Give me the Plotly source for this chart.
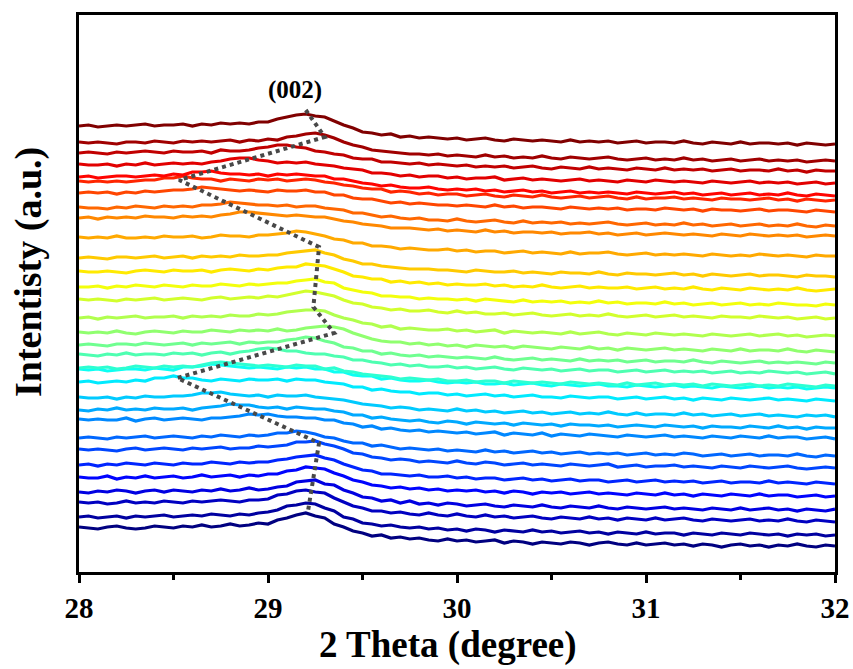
import numpy as np
import plotly.graph_objects as go

# 2-theta sampling grid (degrees)
TWO_THETA = np.round(np.linspace(28.0, 32.0, 81), 2)

# vertical offset of each pattern at 2θ = 28° (bottom → top), a.u.
OFFSETS = [44, 55, 69, 80, 94, 107, 122, 134, 152, 162, 174, 190, 202, 204, 217, 227,
           239, 254, 272, 285, 300, 314, 334, 354, 364, 379, 390, 395, 407, 419, 429, 446]

# intensity of each pattern relative to its offset (bottom → top), a.u.
P00 = [1,0,-1,1,2,0,-1,0,2,1, 0,2,1,3,1,2,4,2,3,5, 4,8,10,13,15,12,10,4,1,-3, -5,-8,-7,-10,-9,-11,-10,-12,-13,-11, -13,-12,-14,-13,-12,-15,-13,-14,-16,-14, -15,-16,-14,-15,-17,-15,-14,-16,-17,-15, -17,-16,-15,-17,-16,-18,-16,-17,-19,-17, -16,-18,-17,-19,-17,-18,-16,-18,-19,-17, -18]
P01 = [0,1,-1,0,1,-1,1,0,1,2, 0,1,2,1,3,2,1,3,2,4, 5,7,11,12,14,13,9,6,0,-2, -6,-7,-9,-8,-10,-11,-10,-12,-11,-13, -12,-14,-12,-13,-15,-13,-14,-15,-13,-15, -14,-16,-15,-14,-16,-15,-17,-15,-16,-17, -15,-17,-16,-16,-18,-16,-17,-18,-16,-17, -18,-16,-17,-18,-17,-19,-17,-18,-17,-19, -18]
P02 = [1,0,1,-1,0,2,0,1,0,2, 1,0,2,1,2,3,2,1,3,3, 4,8,9,12,13,11,10,5,1,-3, -5,-8,-8,-10,-9,-11,-12,-10,-12,-13, -11,-13,-14,-12,-14,-13,-15,-14,-13,-15, -16,-14,-15,-16,-14,-16,-15,-17,-15,-16, -17,-15,-17,-16,-15,-17,-18,-16,-17,-18, -17,-16,-18,-17,-18,-16,-18,-19,-17,-18, -19]
P03 = [0,-1,1,0,2,1,-1,1,2,0, 2,1,0,2,1,3,1,2,4,2, 3,5,6,10,11,12,8,7,2,-1, -5,-6,-9,-8,-11,-9,-12,-11,-13,-11, -12,-14,-13,-12,-14,-15,-13,-14,-15,-13, -15,-16,-14,-15,-16,-14,-16,-17,-15,-16, -17,-16,-15,-17,-16,-17,-18,-16,-17,-18, -16,-18,-17,-16,-18,-17,-19,-17,-18,-19, -17]
P04 = [1,0,0,2,-1,1,0,2,0,1, 2,0,1,3,1,2,3,1,3,2, 4,4,7,8,11,10,9,5,2,-2, -4,-7,-8,-10,-9,-11,-10,-12,-11,-13, -12,-13,-12,-14,-13,-15,-13,-14,-16,-14, -15,-14,-16,-15,-14,-16,-15,-16,-17,-15, -16,-17,-15,-17,-16,-18,-16,-17,-18,-16, -17,-18,-16,-18,-17,-17,-19,-18,-17,-19, -18]
P05 = [0,1,-1,1,0,2,1,0,2,1, 0,2,1,1,3,2,1,3,2,3, 3,5,6,8,9,10,7,5,1,-2, -5,-6,-9,-9,-10,-11,-10,-12,-12,-11, -13,-12,-14,-13,-13,-15,-14,-13,-15,-14, -16,-15,-14,-16,-15,-15,-17,-16,-15,-17, -16,-15,-17,-16,-17,-16,-18,-17,-16,-18, -17,-17,-18,-16,-18,-17,-18,-19,-17,-18, -19]
P06 = [1,0,1,0,-1,1,2,0,1,2, 1,0,2,1,2,3,1,2,2,4, 3,4,5,8,8,9,6,4,1,-3, -4,-7,-8,-10,-9,-10,-12,-11,-12,-13, -11,-13,-14,-12,-13,-15,-14,-13,-15,-14, -15,-16,-14,-15,-16,-15,-14,-17,-16,-15, -17,-16,-16,-15,-17,-16,-17,-18,-16,-17, -18,-16,-17,-18,-17,-16,-18,-19,-18,-17, -18]
P07 = [0,1,0,-1,1,0,1,2,0,1, 2,1,0,2,1,3,2,1,3,2, 3,5,5,7,6,4,1,0,-3,-5, -5,-8,-7,-9,-11,-10,-11,-12,-11,-13, -12,-13,-14,-12,-14,-13,-15,-14,-13,-15, -14,-16,-15,-14,-16,-15,-16,-15,-17,-16, -15,-17,-16,-17,-15,-16,-18,-17,-16,-18, -17,-16,-18,-17,-17,-18,-16,-18,-19,-17, -18]
P08 = [1,0,1,0,0,2,-1,1,2,0, 1,2,1,0,2,2,3,4,6,5, 6,4,3,3,2,2,0,0,-3,-4, -7,-6,-9,-8,-10,-11,-10,-12,-11,-12, -13,-12,-14,-13,-12,-15,-13,-14,-15,-13, -16,-14,-15,-16,-14,-15,-16,-17,-15,-16, -17,-16,-15,-17,-16,-17,-18,-16,-17,-18, -16,-17,-18,-16,-18,-17,-17,-19,-18,-17, -19]
P09 = [0,-1,1,0,2,0,1,0,2,1, 1,2,0,2,3,4,6,5,5,3, 2,3,1,3,2,1,1,-1,-2,-5, -5,-8,-7,-9,-10,-11,-10,-12,-13,-11, -12,-14,-12,-13,-14,-13,-15,-13,-14,-15, -14,-16,-14,-15,-15,-16,-15,-17,-16,-15, -16,-17,-15,-16,-17,-16,-18,-16,-17,-17, -18,-16,-17,-18,-16,-18,-17,-19,-17,-18, -18]
P10 = [1,0,0,1,-1,1,0,2,1,1, 2,2,3,5,5,6,4,3,2,3, 1,3,2,2,3,1,0,-1,-2,-4, -6,-7,-8,-10,-9,-10,-12,-11,-12,-13, -11,-13,-12,-14,-13,-15,-14,-13,-15,-14, -16,-15,-14,-16,-15,-16,-14,-16,-17,-15, -17,-16,-16,-17,-15,-17,-16,-18,-17,-16, -18,-17,-16,-18,-17,-18,-19,-17,-18,-17, -19]
P11 = [0,1,-1,0,1,0,2,1,4,4, 6,4,4,2,1,3,2,1,3,2, 2,3,1,3,2,2,0,-1,-2,-5, -5,-8,-7,-9,-10,-10,-12,-11,-11,-13, -12,-14,-13,-12,-14,-13,-15,-14,-13,-15, -15,-16,-14,-15,-16,-15,-15,-17,-16,-15, -17,-16,-15,-17,-16,-18,-16,-17,-18,-16, -17,-18,-17,-16,-18,-17,-18,-19,-17,-18, -19]
P12 = [1,0,1,-1,0,1,1,0,2,1, 0,3,3,4,6,5,4,3,2,3, 2,1,3,2,3,1,1,-2,-2,-5, -6,-6,-9,-8,-10,-11,-11,-10,-12,-13, -12,-13,-12,-14,-14,-13,-15,-14,-13,-15, -16,-14,-15,-16,-15,-14,-16,-16,-17,-15, -16,-17,-16,-15,-17,-16,-17,-18,-16,-17, -18,-17,-16,-18,-17,-18,-17,-19,-18,-17, -18]
P13 = [0,1,0,1,-1,0,2,1,0,2, 1,2,1,3,5,6,5,4,3,2, 3,2,1,3,2,2,-1,0,-3,-4, -6,-7,-8,-9,-11,-10,-11,-12,-11,-13, -13,-12,-14,-13,-13,-15,-13,-14,-15,-14, -15,-16,-14,-15,-16,-15,-16,-17,-15,-17, -16,-15,-17,-16,-17,-16,-18,-16,-17,-18, -17,-16,-18,-17,-18,-16,-17,-18,-19,-17, -18]
P14 = [1,0,-1,1,0,2,0,1,1,0, 2,1,2,0,2,3,1,3,4,6, 7,6,4,4,2,1,1,-1,-2,-5, -5,-7,-8,-10,-9,-11,-10,-12,-12,-11, -13,-12,-14,-13,-12,-14,-15,-13,-14,-15, -14,-16,-15,-14,-16,-15,-15,-17,-16,-15, -17,-16,-15,-17,-16,-17,-16,-18,-17,-16, -18,-17,-18,-16,-17,-18,-17,-19,-18,-17, -19]
P15 = [0,1,0,-1,1,1,0,2,1,0, 1,2,0,2,1,2,3,1,3,2, 3,3,5,6,8,7,4,2,-2,-3, -6,-6,-9,-8,-10,-11,-10,-12,-11,-12, -13,-12,-13,-14,-12,-14,-15,-14,-13,-15, -14,-15,-16,-14,-16,-15,-16,-15,-17,-16, -15,-17,-16,-16,-17,-15,-17,-18,-16,-17, -18,-17,-16,-18,-17,-18,-17,-18,-19,-17, -18]
P16 = [1,0,1,0,2,0,-1,1,2,1, 0,2,1,1,3,2,1,3,2,3, 2,4,2,3,5,6,7,6,4,0, -3,-6,-8,-9,-9,-11,-10,-12,-11,-13, -12,-14,-12,-13,-14,-13,-15,-13,-14,-15, -16,-14,-15,-16,-14,-16,-15,-17,-15,-16, -17,-16,-15,-17,-16,-17,-18,-16,-17,-18, -16,-18,-17,-17,-18,-16,-18,-19,-17,-18, -19]
P17 = [0,1,-1,1,0,1,2,0,1,1, 2,0,2,1,2,1,3,2,2,4, 3,4,6,7,8,8,7,3,0,-2, -5,-6,-9,-8,-11,-10,-11,-12,-12,-11, -13,-12,-14,-13,-12,-15,-13,-14,-15,-14, -15,-16,-14,-16,-15,-14,-16,-17,-15,-16, -17,-15,-16,-17,-16,-17,-18,-16,-17,-18, -17,-16,-18,-17,-16,-18,-17,-19,-18,-17, -18]
P18 = [1,0,1,0,-1,1,0,1,2,0, 1,2,1,0,2,3,1,2,3,2, 4,3,5,7,9,8,6,4,0,-3, -4,-7,-8,-10,-9,-11,-11,-10,-12,-13, -11,-13,-12,-14,-14,-13,-15,-14,-13,-15, -16,-15,-14,-16,-15,-16,-14,-16,-17,-16, -15,-17,-16,-15,-17,-16,-17,-18,-16,-17, -17,-18,-16,-17,-18,-17,-19,-18,-17,-19, -18]
P19 = [0,0,1,-1,1,0,2,1,0,2, 1,0,2,1,1,3,2,1,3,2, 3,4,4,6,7,8,5,4,-1,-3, -5,-6,-9,-9,-10,-10,-12,-11,-12,-12, -13,-12,-14,-12,-13,-14,-15,-13,-15,-14, -15,-14,-16,-15,-16,-14,-16,-15,-17,-16, -16,-17,-15,-17,-16,-18,-17,-16,-18,-17, -16,-18,-17,-18,-16,-17,-18,-18,-19,-17, -18]
P20 = [1,0,0,1,0,-1,1,2,1,0, 2,1,1,2,0,2,3,2,1,3, 2,4,5,5,8,7,6,3,0,-4, -5,-7,-7,-10,-9,-11,-10,-12,-11,-13, -12,-13,-13,-12,-14,-13,-15,-14,-15,-13, -15,-16,-15,-14,-16,-15,-16,-16,-15,-17, -16,-15,-17,-16,-17,-15,-17,-18,-16,-17, -18,-16,-17,-18,-17,-18,-16,-18,-19,-18, -17]
P21 = [0,1,0,-1,1,1,0,1,2,0, 1,2,0,2,1,2,1,3,2,2, 3,3,5,6,7,8,5,3,-1,-3, -6,-6,-8,-9,-10,-11,-11,-11,-12,-12, -13,-14,-12,-13,-14,-14,-13,-15,-14,-15, -16,-14,-15,-15,-16,-14,-16,-17,-15,-16, -16,-17,-16,-15,-17,-16,-18,-16,-17,-18, -17,-16,-18,-17,-17,-18,-19,-17,-18,-18, -19]
P22 = [1,0,1,0,2,0,0,1,0,2, 1,1,2,0,1,3,2,2,1,3, 3,4,5,7,6,4,2,-1,-2,-5, -5,-8,-8,-9,-11,-10,-11,-12,-12,-11, -13,-12,-14,-13,-13,-15,-14,-13,-15,-14, -15,-16,-14,-16,-15,-15,-14,-16,-17,-16, -15,-17,-16,-17,-16,-17,-18,-16,-17,-18, -17,-18,-16,-17,-18,-17,-18,-19,-17,-18, -18]
P23 = [0,1,-1,1,0,1,0,2,1,1, 0,2,1,2,1,3,4,6,6,5, 4,3,2,3,2,1,1,-1,-3,-4, -6,-7,-8,-10,-10,-10,-11,-12,-11,-13, -12,-13,-14,-12,-14,-13,-15,-14,-14,-15, -14,-16,-15,-15,-14,-16,-15,-17,-16,-15, -17,-16,-15,-16,-17,-16,-17,-18,-16,-17, -18,-16,-17,-18,-17,-18,-17,-19,-18,-17, -18]
P24 = [1,0,0,-1,1,0,2,1,0,2, 1,2,1,3,3,4,6,5,4,3, 3,2,3,1,2,2,0,-1,-2,-5, -5,-7,-9,-8,-10,-11,-10,-12,-12,-13, -11,-13,-14,-13,-12,-14,-15,-13,-15,-14, -15,-14,-16,-15,-16,-15,-14,-16,-17,-16, -15,-17,-16,-17,-15,-17,-16,-18,-17,-16, -18,-17,-16,-18,-17,-18,-16,-18,-19,-17, -18]
P25 = [0,1,0,1,-1,1,0,2,1,2, 3,3,4,6,5,4,3,2,3,2, 1,3,2,2,3,1,1,-2,-2,-5, -6,-6,-8,-10,-9,-11,-10,-11,-12,-12, -13,-12,-13,-14,-12,-14,-13,-15,-14,-14, -15,-16,-14,-15,-16,-15,-16,-15,-17,-16, -16,-17,-15,-16,-17,-16,-18,-16,-17,-17, -18,-17,-16,-18,-17,-17,-18,-19,-17,-18, -19]
P26 = [1,0,1,0,1,0,1,2,2,4, 4,6,4,3,3,1,3,2,1,3, 2,3,1,2,3,2,0,-1,-3,-4, -6,-7,-7,-10,-9,-10,-12,-11,-13,-12, -12,-14,-13,-12,-14,-15,-13,-14,-15,-13, -15,-16,-15,-14,-16,-15,-14,-16,-17,-15, -17,-16,-16,-15,-17,-16,-17,-18,-16,-17, -17,-18,-17,-16,-18,-17,-19,-17,-18,-19, -18]
P27 = [0,1,-1,0,1,1,0,1,2,1, 3,2,5,5,6,4,3,3,2,3, 1,3,2,3,2,1,1,-2,-2,-4, -6,-7,-9,-8,-10,-11,-11,-10,-12,-13, -12,-13,-12,-14,-13,-15,-14,-13,-15,-14, -16,-15,-14,-16,-15,-16,-15,-16,-17,-15, -16,-17,-16,-15,-17,-16,-18,-17,-16,-18, -17,-16,-18,-17,-18,-16,-18,-19,-17,-18, -19]
P28 = [1,0,0,1,-1,1,0,2,0,1, 2,1,2,1,3,4,6,7,7,5, 4,2,3,2,3,1,0,-1,-3,-4, -5,-8,-8,-9,-11,-10,-12,-11,-11,-13, -12,-14,-13,-13,-12,-15,-14,-13,-15,-14, -15,-16,-15,-14,-16,-15,-16,-17,-15,-16, -17,-15,-16,-17,-16,-17,-18,-16,-17,-18, -17,-16,-18,-17,-18,-17,-19,-18,-17,-19, -18]
P29 = [0,1,0,-1,1,0,1,2,1,0, 2,1,1,2,0,3,2,2,3,5, 6,8,8,6,5,2,1,-1,-2,-5, -6,-6,-9,-9,-10,-11,-10,-12,-11,-12, -13,-12,-14,-13,-14,-13,-15,-14,-13,-15, -16,-14,-15,-16,-14,-16,-15,-16,-17,-15, -16,-17,-15,-17,-16,-17,-16,-18,-17,-16, -18,-17,-17,-18,-16,-18,-17,-19,-17,-18, -18]
P30 = [1,0,1,0,-1,1,1,0,2,1, 0,2,1,2,1,2,3,1,3,2, 4,3,6,7,9,10,8,5,1,-2, -4,-7,-8,-9,-10,-11,-11,-12,-11,-13, -12,-13,-14,-12,-14,-13,-15,-14,-15,-13, -15,-16,-14,-15,-16,-15,-14,-16,-17,-16, -15,-17,-16,-17,-15,-17,-16,-18,-17,-16, -18,-17,-16,-18,-17,-18,-17,-19,-18,-17, -18]
P31 = [0,1,-1,0,1,0,1,2,0,1, 1,2,0,2,1,3,2,3,2,4, 4,7,9,11,12,10,9,5,1,-2, -6,-7,-9,-8,-11,-10,-12,-11,-12,-13, -12,-14,-13,-12,-14,-15,-13,-14,-15,-14, -15,-16,-14,-16,-15,-16,-15,-17,-16,-15, -17,-16,-16,-17,-15,-17,-18,-16,-17,-18, -16,-18,-17,-17,-18,-17,-19,-17,-18,-19, -18]

PATTERNS = [P00, P01, P02, P03, P04, P05, P06, P07, P08, P09, P10, P11, P12, P13, P14, P15,
            P16, P17, P18, P19, P20, P21, P22, P23, P24, P25, P26, P27, P28, P29, P30, P31]

# (002) peak-shift guide (2θ, intensity)
PEAK_X = [29.20, 29.30, 28.53, 29.27, 29.24, 29.35, 28.52, 29.27, 29.21]
PEAK_Y = [462, 435, 392, 325, 265, 239, 194, 129, 59]

bad = [i for i, p in enumerate(PATTERNS) if len(p) != len(TWO_THETA)]
if bad:
    raise ValueError("bad lengths: " + str([(i, len(PATTERNS[i])) for i in bad]))


def jet(t):
    r = min(1.0, max(0.0, 1.5 - abs(4 * t - 3)))
    g = min(1.0, max(0.0, 1.5 - abs(4 * t - 2)))
    b = min(1.0, max(0.0, 1.5 - abs(4 * t - 1)))
    return "rgb(%d,%d,%d)" % (round(r * 255), round(g * 255), round(b * 255))


FONT = "Liberation Serif, Times New Roman, serif"
fig = go.Figure()
n = len(PATTERNS)
for i, (off, prof) in enumerate(zip(OFFSETS, PATTERNS)):
    fig.add_trace(go.Scatter(
        x=TWO_THETA, y=[off + v for v in prof], mode="lines",
        line=dict(color=jet(i / (n - 1)), width=3.2),
        showlegend=False, hoverinfo="skip"))

fig.add_trace(go.Scatter(
    x=PEAK_X, y=PEAK_Y, mode="lines",
    line=dict(color="#484848", width=4, dash="dot"),
    showlegend=False, hoverinfo="skip"))

fig.update_layout(
    width=853, height=669,
    margin=dict(l=79, r=18, t=15, b=97, autoexpand=False),
    paper_bgcolor="white", plot_bgcolor="white",
    font=dict(family=FONT, color="black"),
    xaxis=dict(range=[28, 32], showgrid=False, zeroline=False, automargin=False,
               showline=True, linecolor="black", linewidth=2.5, mirror=True,
               ticks="outside", ticklen=8, tickwidth=2.5, tickcolor="black",
               tickvals=[28, 29, 30, 31, 32],
               tickfont=dict(family=FONT, size=29, weight="bold", color="black"),
               minor=dict(ticks="outside", ticklen=5, tickwidth=2.5, tickcolor="black", dtick=0.5)),
    yaxis=dict(range=[0, 557], showgrid=False, zeroline=False, automargin=False,
               showline=True, linecolor="black", linewidth=2.5, mirror=True,
               ticks="", showticklabels=False),
    annotations=[
        dict(text="2 Theta (degree)", xref="paper", yref="paper",
             x=(448 - 79) / 756, y=-(645 - 572) / 557, xanchor="center", yanchor="middle",
             showarrow=False, font=dict(family=FONT, size=37, weight="bold", color="black")),
        dict(text="Intentisty (a.u.)", xref="paper", yref="paper", textangle=-90,
             x=-(79 - 28) / 756, y=(572 - 272) / 557, xanchor="center", yanchor="middle",
             showarrow=False, font=dict(family=FONT, size=38, weight="bold", color="black")),
        dict(text="(002)", xref="x", yref="y", x=29.143, y=482,
             xanchor="center", yanchor="middle", showarrow=False,
             font=dict(family=FONT, size=25, weight="bold", color="black")),
    ],
)

fig.write_html("out.html")
